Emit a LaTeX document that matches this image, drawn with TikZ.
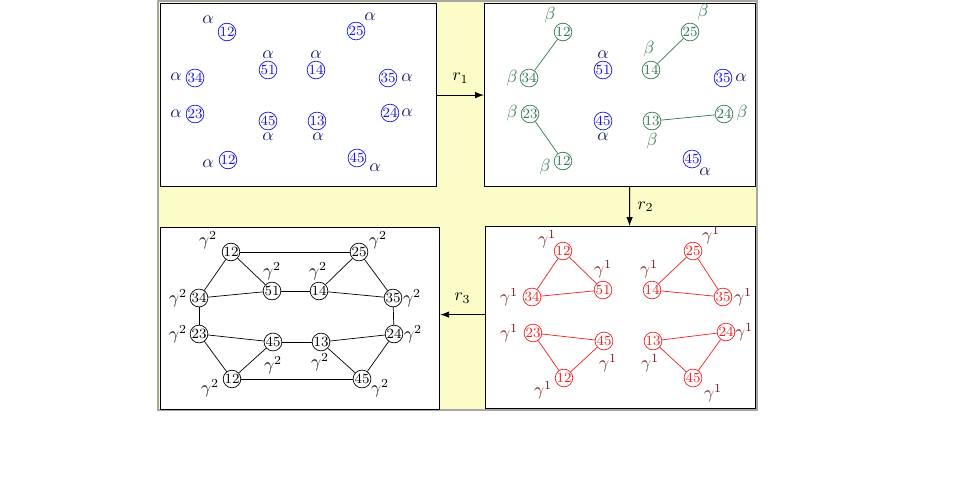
\documentclass[tikz,border=0pt]{standalone}
\usepackage{tikz}
\usetikzlibrary{arrows.meta,positioning}
\definecolor{navy}{RGB}{25,25,110}
\definecolor{nodeblue}{RGB}{20,20,225}
\definecolor{sage}{RGB}{50,120,80}
\definecolor{darkred}{RGB}{125,20,20}
\definecolor{brightred}{RGB}{235,35,35}
\definecolor{paleyellow}{RGB}{251,252,200}

\begin{document}
\begin{tikzpicture}[
  x=0.02cm,y=-0.02cm,
  nd/.style={circle,draw,inner sep=0pt,minimum size=9.6pt,font=\footnotesize},
  ndA/.style={nd,draw=nodeblue,text=nodeblue},
  ndB/.style={nd,draw=sage,text=sage},
  ndC/.style={nd,draw=brightred,text=brightred},
  ndD/.style={nd,draw=black},
  lbA/.style={text=navy,inner sep=0.5pt},
  lbB/.style={text=sage,inner sep=0.5pt},
  lbC/.style={text=darkred,inner sep=0.5pt},
  lbD/.style={text=black,inner sep=0.5pt},
  panel/.style={draw=black,fill=white,line width=0.7pt,anchor=north west,inner sep=0pt},
  ar/.style={-{Latex[length=1.8mm,width=1.3mm]},draw=black,line width=0.5pt}
]
\useasboundingbox (0,0) rectangle (960,480);
\draw[draw=black!35,fill=paleyellow,line width=1.2pt] (158,1) rectangle (757,410);

% ---- the four panels
\node[panel,minimum width=5.52cm,minimum height=3.66cm] (pTL) at (160,3) {};
\node[panel,minimum width=5.42cm,minimum height=3.66cm] (pTR) at (484,3) {};
\node[panel,minimum width=5.58cm,minimum height=3.64cm] (pBL) at (160,227) {};
\node[panel,minimum width=5.40cm,minimum height=3.64cm] (pBR) at (485,226) {};

% ---- panel 1 : all alpha
\foreach \n/\t/\x/\y in {a12/12/227/32, a25/25/356/31, a51/51/268/70, a14/14/316/70,
  a34/34/195/78, a35/35/388/78, a23/23/195/114, a24/24/390/113,
  a45/45/268/121, a13/13/317/121, a12b/12/228/160, a45b/45/357/158}
  \node[ndA] (\n) at (\x,\y) {\t};
\foreach \n/\x/\y in {a12/208/20, a25/370/17, a51/268/55, a14/316/55, a34/176/77, a35/407/78,
  a23/176/114, a24/407/113, a45/268/137, a13/318/137, a12b/208/164, a45b/375/168}
  \node[lbA] (l\n) at (\x,\y) {$\alpha$};

% ---- panel 2 : beta pairs
\foreach \n/\t/\x/\y in {b12/12/563/32, b34/34/529/78, b23/23/530/114, b12b/12/563/161,
  b25/25/690/32, b14/14/651/70, b13/13/652/121, b24/24/724/114}
  \node[ndB] (\n) at (\x,\y) {\t};
\foreach \n/\t/\x/\y in {b51/51/603/70, b45/45/603/121, b35/35/723/78, b45b/45/692/159}
  \node[ndA] (\n) at (\x,\y) {\t};
\foreach \n/\x/\y in {b12/550/15, b34/512/78, b23/512/113, b12b/545/167,
  b25/703/12, b14/649/49, b13/652/141, b24/742/113}
  \node[lbB] (l\n) at (\x,\y) {$\beta$};
\foreach \n/\x/\y in {b51/603/55, b45/603/137, b35/741/78, b45b/705/172}
  \node[lbA] (l\n) at (\x,\y) {$\alpha$};
\foreach \u/\v in {b12/b34, b23/b12b, b25/b14, b13/b24}
  \draw[sage] (\u) -- (\v);

% ---- panel 3 : gamma^1 triangles
\foreach \n/\t/\x/\y in {c12/12/563/251, c51/51/603/290, c34/34/532/297, c25/25/693/251,
  c14/14/652/290, c35/35/723/297, c23/23/533/333, c45/45/604/341,
  c12b/12/564/378, c13/13/653/341, c24/24/726/332, c45b/45/693/378}
  \node[ndC] (\n) at (\x,\y) {\t};
\foreach \n/\x/\y in {c12/547/239, c51/603/269, c34/509/297, c25/711/235, c14/649/269, c35/743/297,
  c23/509/333, c45/608/363, c12b/543/390, c13/650/363, c24/744/332, c45b/713/393}
  \node[lbC] (l\n) at (\x,\y) {$\gamma^1$};
\foreach \u/\v in {c12/c34, c12/c51, c34/c51, c25/c14, c25/c35, c14/c35,
  c23/c45, c23/c12b, c45/c12b, c13/c24, c13/c45b, c24/c45b}
  \draw[brightred] (\u) -- (\v);

% ---- panel 4 : gamma^2 ring
\foreach \n/\t/\x/\y in {d12/12/231/252, d25/25/359/252, d51/51/272/291, d14/14/319/291,
  d34/34/199/298, d35/35/393/298, d23/23/199/334, d24/24/394/334,
  d45/45/273/342, d13/13/321/342, d12b/12/232/379, d45b/45/362/379}
  \node[ndD] (\n) at (\x,\y) {\t};
\foreach \n/\x/\y in {d12/208/240, d25/378/240, d51/272/271, d14/318/271, d34/178/298, d35/412/298,
  d23/178/334, d24/413/334, d45/273/365, d13/320/362, d12b/210/388, d45b/380/388}
  \node[lbD] (l\n) at (\x,\y) {$\gamma^2$};
\foreach \u/\v in {d12/d25, d12/d34, d12/d51, d25/d14, d25/d35, d34/d51, d51/d14, d14/d35,
  d34/d23, d35/d24, d23/d45, d45/d13, d13/d24, d23/d12b, d45/d12b, d13/d45b, d24/d45b, d12b/d45b}
  \draw (\u) -- (\v);

% ---- rewriting arrows
\draw[ar] (pTL) -- (pTR) node[midway,above=3pt] {$r_1$};
\draw[ar] ([xshift=0.19cm]pTR.south) -- ([xshift=0.18cm]pBR.north) node[midway,right=1pt] {$r_2$};
\draw[ar] ([yshift=0.06cm]pBR.west) -- ([yshift=0.08cm]pBL.east) node[midway,above=3pt] {$r_3$};
\end{tikzpicture}
\end{document}
